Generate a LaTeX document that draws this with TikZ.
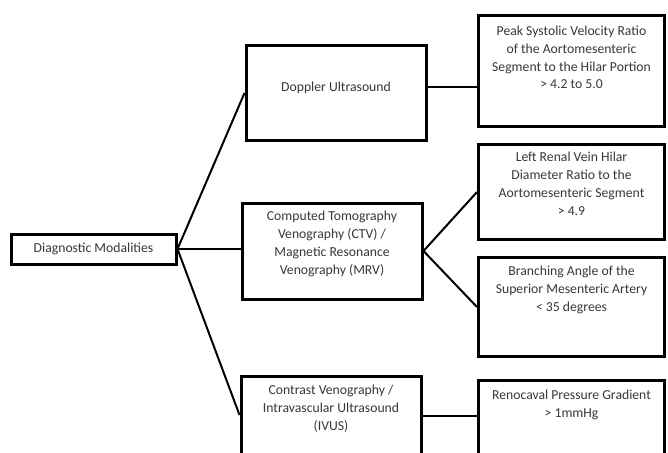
\documentclass[tikz,border=0pt]{standalone}
\usepackage{fontspec}
\setmainfont{Carlito}
\usepackage{tikz}
\usetikzlibrary{positioning, calc}

% text block of a box: height, gap above first line, lines
\newcommand{\celltext}[3]{\parbox[c][#1pt][t]{180pt}{\vspace*{#2pt}\centering\strut #3}}

\begin{document}
\begin{tikzpicture}[
    x=1pt, y=-1pt,
    box/.style={rectangle, draw=black, fill=white, line width=3pt, inner sep=0pt, text=black!78, font=\fontsize{13.7}{17.8}\selectfont},
    leaf/.style={box, minimum width=186pt},
    link/.style={draw=black, line width=2pt},
]
\useasboundingbox (0, 0) rectangle (668, 452);

% Root
\node[box, minimum width=165pt, minimum height=30pt] (diag) at (93.5, 249) {Diagnostic Modalities};

% Modalities
\node[box, minimum width=177pt, minimum height=95pt] (dop) at (336, 93) {\celltext{95}{33.5}{Doppler Ultrasound}};
\node[box, minimum width=179pt, minimum height=96pt] (ct) at (332, 251) {\celltext{96}{5.5}{Computed Tomography\\ Venography (CTV) /\\ Magnetic Resonance\\ Venography (MRV)}};
\node[box, minimum width=177pt, minimum height=90pt] (cv) at (331, 421.5) {\celltext{90}{5.5}{Contrast Venography /\\ Intravascular Ultrasound\\ (IVUS)}};

% Criteria
\node[leaf, minimum height=111pt] (peak) at (571.5, 71) {\celltext{111}{7.5}{Peak Systolic Velocity Ratio\\ of the Aortomesenteric\\ Segment to the Hilar Portion\\ > 4.2 to 5.0}};
\node[leaf, minimum height=95pt] (lrv) at (571.5, 192) {\celltext{95}{5}{Left Renal Vein Hilar\\ Diameter Ratio to the\\ Aortomesenteric Segment\\ > 4.9}};
\node[leaf, minimum height=99pt] (sma) at (571.5, 307) {\celltext{99}{5.5}{Branching Angle of the\\ Superior Mesenteric Artery\\ < 35 degrees}};
\node[leaf, minimum height=90pt] (rpg) at (571.5, 425) {\celltext{90}{7.5}{Renocaval Pressure Gradient\\ > 1mmHg}};

% Connectors
\draw[link] (diag.east) -- (dop.west);
\draw[link] (diag.east) -- (diag.east -| ct.west);
\draw[link] (diag.east) -- ([yshift=6.5pt]cv.west);
\draw[link] ([yshift=6pt]dop.east) -- ([yshift=6pt]dop.east -| peak.west);
\draw[link] (ct.east) -- (lrv.west);
\draw[link] (ct.east) -- (sma.west);
\draw[link] ([yshift=5.5pt]cv.east) -- ([yshift=5.5pt]cv.east -| rpg.west);

\end{tikzpicture}
\end{document}
